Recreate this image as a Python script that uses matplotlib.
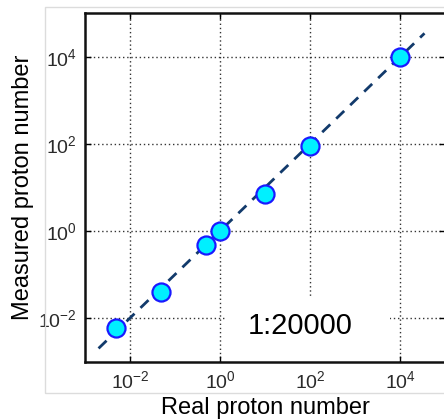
import matplotlib
matplotlib.use("Agg")
import matplotlib.pyplot as plt
from matplotlib.patches import Rectangle
from matplotlib.ticker import FixedLocator, NullLocator

plt.rcParams['font.family'] = ['Liberation Sans', 'DejaVu Sans']
plt.rcParams['mathtext.fontset'] = 'custom'
plt.rcParams['mathtext.rm'] = 'Liberation Sans'
plt.rcParams['mathtext.it'] = 'Liberation Sans'
plt.rcParams['mathtext.bf'] = 'Liberation Sans'

# Data
real_protons = [0.005, 0.05, 0.5, 1.0, 10.0, 100.0, 10000.0]
measured_protons = [0.006, 0.04, 0.48, 1.0, 7.0, 90.0, 10000.0]
fit_x = [0.002, 35000.0]
fit_y = [0.002, 35000.0]
tick_values = [1e-2, 1e0, 1e2, 1e4]
tick_labels = [r'$10^{-2}$', r'$10^{0}$', r'$10^{2}$', r'$10^{4}$']
ratio_text = "1:20000"

fig = plt.figure(figsize=(4.44, 4.19), dpi=100)
fig.patch.set_facecolor('white')

# light grey frame
fig.patches.append(Rectangle((45/444, 1-393/419), 1.0, (393-7)/419,
                             transform=fig.transFigure, fill=False,
                             edgecolor='#dcdcdc', linewidth=1.0, zorder=0))

ax = fig.add_axes([85/444, 1-361.5/419, 360/444, 348/419])
ax.set_xscale('log')
ax.set_yscale('log')
ax.set_xlim(1e-3, 1e5)
ax.set_ylim(1e-3, 1e5)

ax.xaxis.set_major_locator(FixedLocator(tick_values))
ax.yaxis.set_major_locator(FixedLocator(tick_values))
ax.xaxis.set_minor_locator(NullLocator())
ax.yaxis.set_minor_locator(NullLocator())
ax.set_xticklabels(tick_labels)
ax.set_yticklabels(tick_labels)
ax.tick_params(axis='both', which='major', direction='in', length=4, width=1,
               labelsize=14, labelcolor='#2a2a2a', top=True, right=True, pad=6)

ax.grid(True, which='major', linestyle=(0, (1, 2)), color='#333333', linewidth=1.0)

for side in ['left', 'top', 'bottom', 'right']:
    ax.spines[side].set_linewidth(1.8)
    ax.spines[side].set_color('#111111')

ax.plot(fit_x, fit_y, linestyle=(0, (4, 3)), color='#123a6b', linewidth=2.0, zorder=3)
ax.plot(real_protons, measured_protons, linestyle='none', marker='o', markersize=13,
        markerfacecolor='#00f0ff', markeredgecolor='#1a1aff', markeredgewidth=1.6, zorder=4)

# white box behind the ratio annotation
ax.add_patch(Rectangle(((227-85)/360, 0.0), (390-227)/360, (361.5-297)/348,
                       transform=ax.transAxes, facecolor='white', edgecolor='none',
                       zorder=2.5))
ax.text((300-85)/360, (361.5-326)/348, ratio_text, transform=ax.transAxes,
        fontsize=21, ha='center', va='center', color='black', zorder=5)

ax.set_xlabel('Real proton number', fontsize=17, labelpad=4)
ax.set_ylabel('Measured proton number', fontsize=17, labelpad=3)

fig.savefig('out.png', dpi=100)
